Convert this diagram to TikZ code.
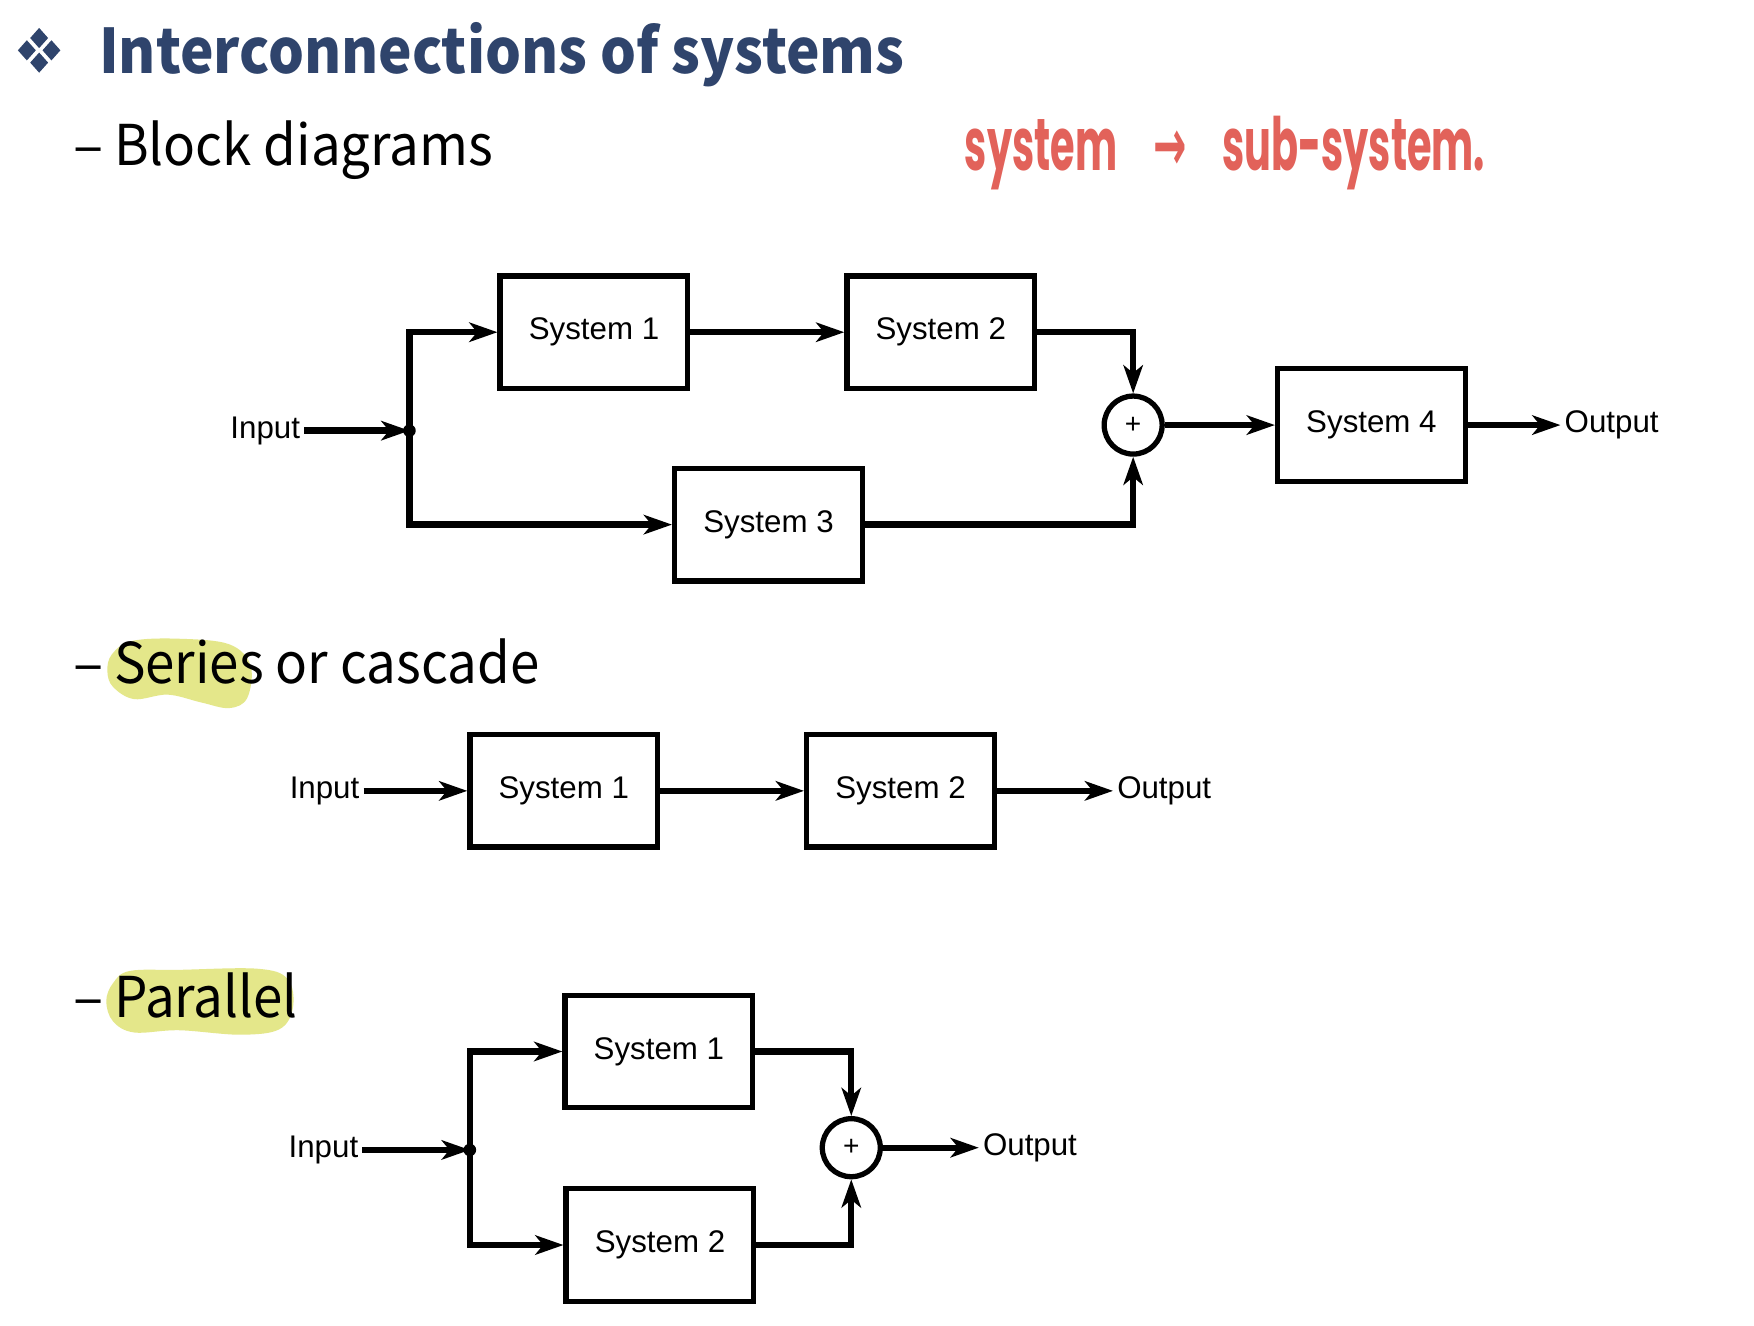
\documentclass[tikz,border=0pt]{standalone}
\usepackage{fontspec}
\setmainfont{Noto Sans CJK KR}
\newfontfamily\diagfont{Liberation Sans}
\newfontfamily\handfont{Poppins}
\newfontfamily\symfont{DejaVu Sans}
\usetikzlibrary{arrows.meta,calc}

\definecolor{titleblue}{HTML}{2F446C}
\definecolor{inkred}{HTML}{E2625A}
\definecolor{hilite}{HTML}{E4E78A}

\begin{document}
\begin{tikzpicture}[x=0.011186cm,y=-0.011186cm,
  sysbox/.style={draw, line width=1.5pt, minimum width=53.4pt, minimum height=32pt,
    inner sep=0pt, font=\diagfont\fontsize{8.9}{10}\selectfont},
  sumnode/.style={circle, draw, line width=1.5pt, minimum size=16.5pt, inner sep=0pt,
    font=\diagfont\fontsize{8}{8}\selectfont},
  lbl/.style={inner sep=1pt, font=\diagfont\fontsize{8.9}{10}\selectfont},
  wire/.style={line width=1.8pt},
  arr/.style={wire, -{Stealth[length=8pt,width=5.5pt,inset=2.2pt]}},
  heading/.style={anchor=base west, inner sep=0pt, font=\fontsize{16}{18}\selectfont},
  dot/.style={circle, fill, inner sep=0pt, minimum size=3.6pt}
]
\useasboundingbox (0,0) rectangle (1568,1185);
\fill[white] (0,0) rectangle (1568,1185);

% ---- title with diamond bullet ----
\begin{scope}[fill=titleblue, shift={(35,45)}]
  \foreach \dx/\dy in {0/-11, -11/0, 11/0, 0/11}
    \fill (\dx,\dy) ++(0,-9) -- ++(8,9) -- ++(-8,9) -- ++(-8,-9) -- cycle;
\end{scope}
\node[anchor=base west, inner sep=0pt, text=titleblue,
  font=\bfseries\fontsize{17.5}{20}\selectfont] (title) at (88,66)
  {\scalebox{0.92}[1]{Interconnections of systems}};

% ---- handwritten note ----
\node[anchor=base west, inner sep=0pt, text=inkred] (note) at (862,152)
  {\resizebox*{148pt}{21pt}{\handfont\bfseries system\hspace{9pt}{\symfont\bfseries →}\hspace{9pt}sub-system.}};

% ---- section headings ----
\node[heading] (h1) at (65,148) {–\hspace{3pt}\scalebox{0.94}[1]{Block diagrams}};

\fill[hilite] plot[smooth cycle, tension=0.6] coordinates
  {(100,585) (118,573) (160,571) (205,576) (224,595) (221,624) (205,633)
   (180,628) (150,621) (120,625) (101,614) (96,600)};
\node[heading] (h2) at (65,611) {–\hspace{3pt}\scalebox{0.94}[1]{Series or cascade}};

\fill[hilite] plot[smooth cycle, tension=0.6] coordinates
  {(101,879) (116,868) (160,867) (230,866) (257,875) (262,900) (250,920)
   (215,925) (160,921) (120,923) (101,913) (95,895)};
\node[heading] (h3) at (65,910) {–\hspace{3pt}\scalebox{0.94}[1]{Parallel}};

% ---- block diagram: parallel/series mix ----
\node[lbl, anchor=east] (in1) at (272,385) {Input};
\coordinate (j1) at (366,385);
\node[dot] at (j1) {};
\node[sysbox] (a1) at (531,297) {System 1};
\node[sysbox] (a2) at (841,297) {System 2};
\node[sysbox] (a3) at (687,469) {System 3};
\node[sumnode] (sum1) at (1013,380) {+};
\node[sysbox] (a4) at (1226,380) {System 4};
\node[lbl, anchor=west] (out1) at (1395,380) {Output};

\draw[arr] (in1.east) -- (j1);
\draw[arr] (j1) |- (a1.west);
\draw[arr] (j1) |- (a3.west);
\draw[arr] (a1.east) -- (a2.west);
\draw[arr] (a2.east) -| (sum1.north);
\draw[arr] (a3.east) -| (sum1.south);
\draw[arr] (sum1.east) -- (a4.west);
\draw[arr] (a4.east) -- (out1.west);

% ---- series connection ----
\node[lbl, anchor=east] (in2) at (325,707) {Input};
\node[sysbox] (b1) at (504,707) {System 1};
\node[sysbox] (b2) at (805,707) {System 2};
\node[lbl, anchor=west] (out2) at (995,707) {Output};
\draw[arr] (in2.east) -- (b1.west);
\draw[arr] (b1.east) -- (b2.west);
\draw[arr] (b2.east) -- (out2.west);

% ---- parallel connection ----
\node[lbl, anchor=east] (in3) at (324,1028) {Input};
\coordinate (j3) at (420,1028);
\node[dot] at (j3) {};
\node[sysbox] (c1) at (589,940) {System 1};
\node[sysbox] (c2) at (590,1113) {System 2};
\node[sumnode] (sum3) at (761,1026) {+};
\node[lbl, anchor=west] (out3) at (875,1026) {Output};
\draw[arr] (in3.east) -- (j3);
\draw[arr] (j3) |- (c1.west);
\draw[arr] (j3) |- (c2.west);
\draw[arr] (c1.east) -| (sum3.north);
\draw[arr] (c2.east) -| (sum3.south);
\draw[arr] (sum3.east) -- (out3.west);
\end{tikzpicture}
\end{document}
